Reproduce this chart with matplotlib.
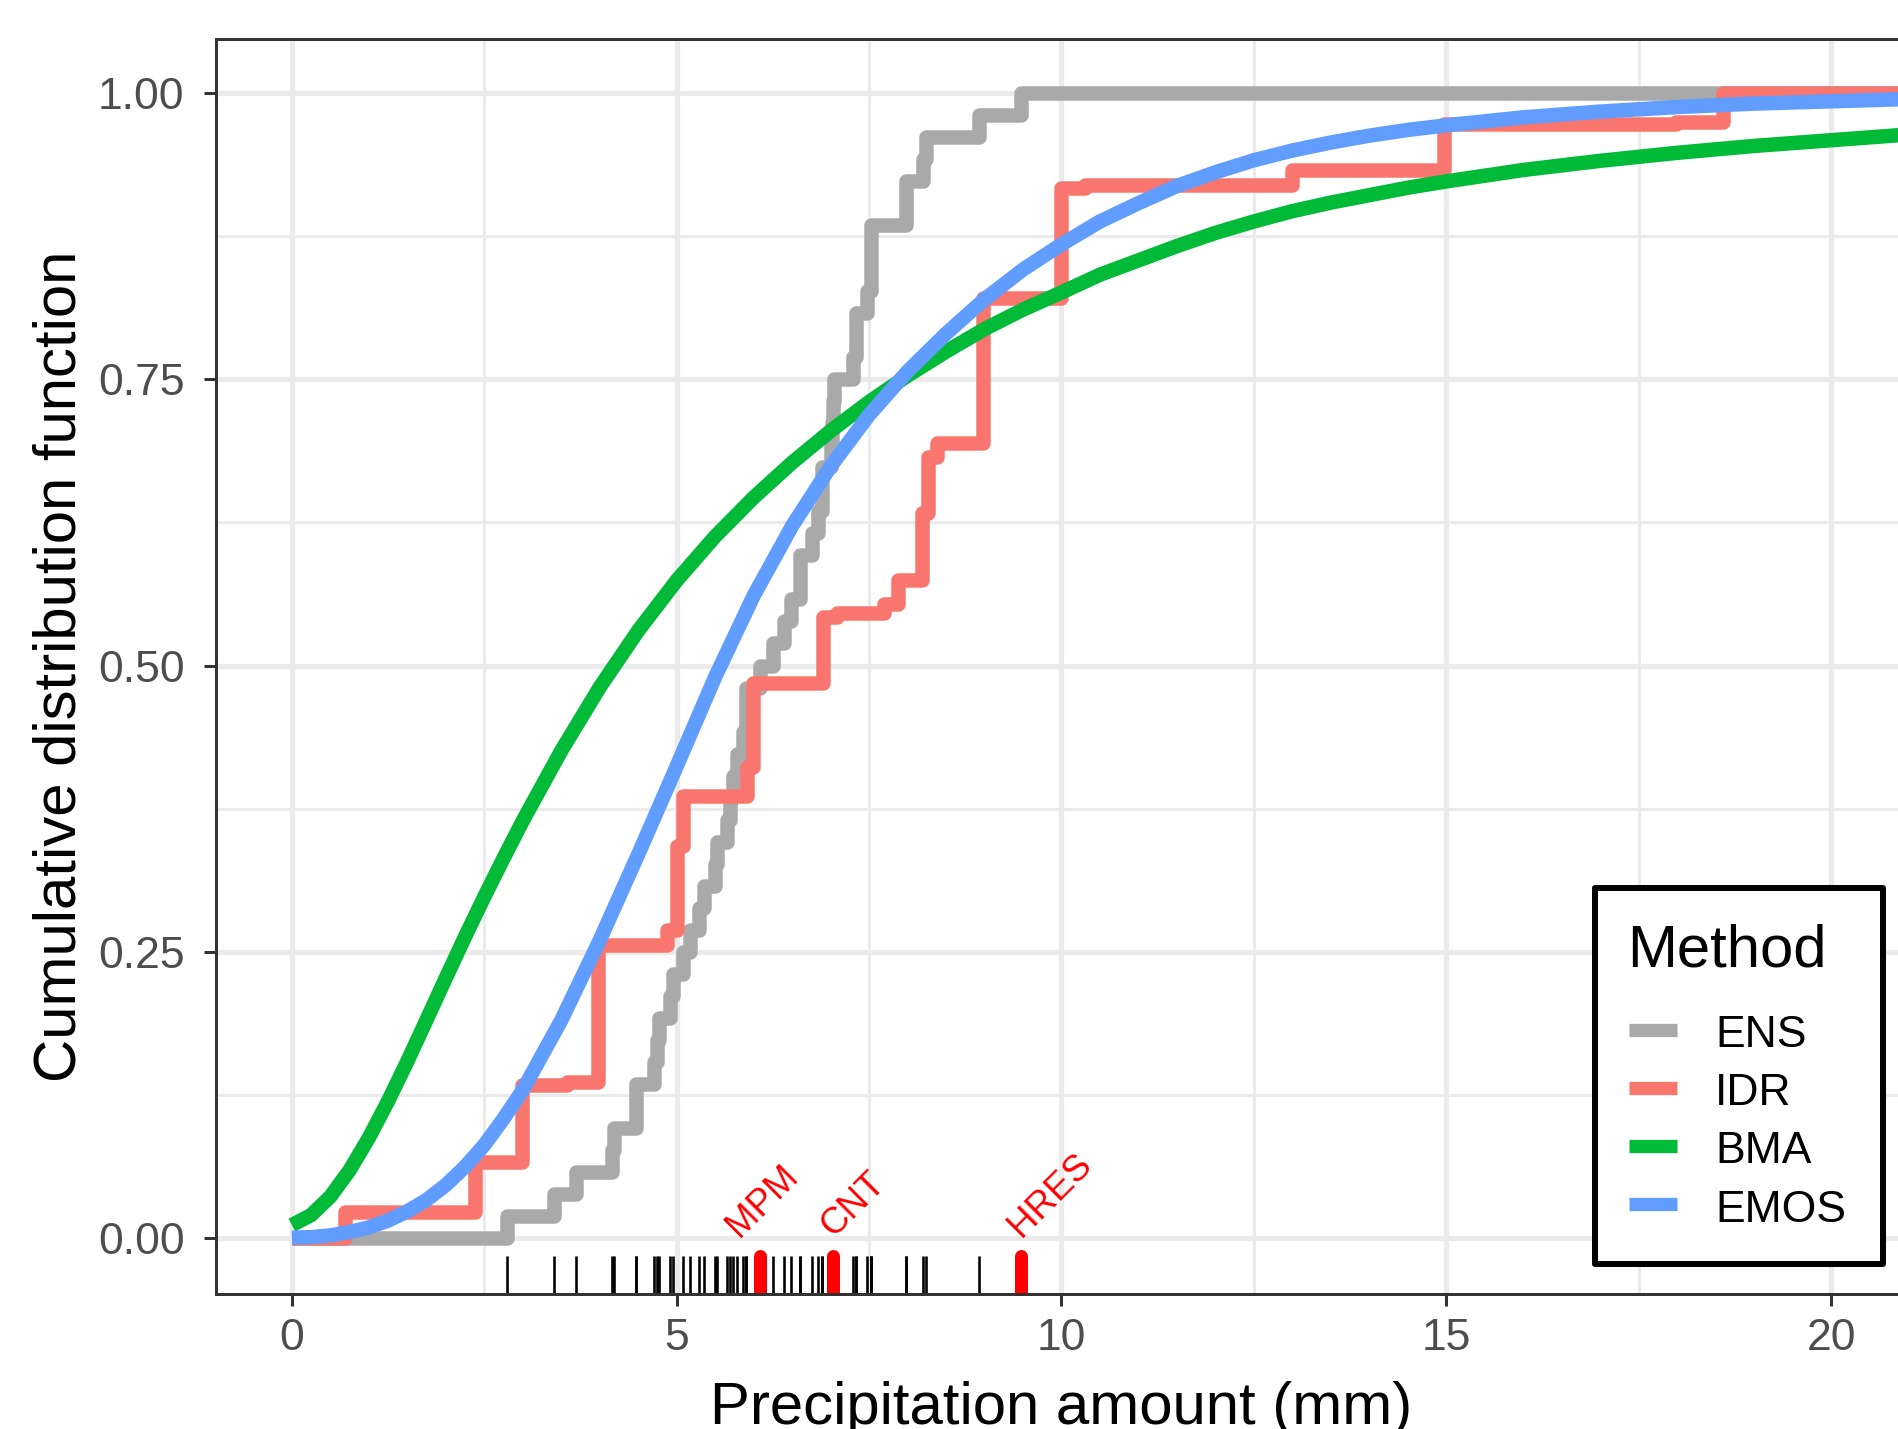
import numpy as np
import matplotlib
matplotlib.use("Agg")
import matplotlib.pyplot as plt
from matplotlib.lines import Line2D
from matplotlib.patches import Rectangle

plt.rcParams['font.family'] = ['Liberation Sans', 'DejaVu Sans']

# ---------------------------------------------------------------------------
# Data
# ---------------------------------------------------------------------------
# Raw ensemble member forecasts (mm); ENS is their empirical CDF
ens_members = [2.79, 3.41, 3.69, 4.155, 4.185, 4.47, 4.47, 4.705, 4.74, 4.77,
               4.91, 4.95, 5.086, 5.17, 5.29, 5.35, 5.50, 5.53, 5.65, 5.69,
               5.73, 5.78, 5.86, 5.90, 5.90, 6.085, 6.25, 6.39, 6.48, 6.60,
               6.60, 6.76, 6.83, 6.89, 6.89, 7.00, 7.02, 7.035, 7.05, 7.295,
               7.33, 7.33, 7.47, 7.52, 7.52, 7.52, 7.98, 7.98, 8.20, 8.235,
               8.93, 9.48]

# Highlighted single forecasts shown on the rug
named_labels = ['MPM', 'CNT', 'HRES']
named_values = [6.085, 7.035, 9.48]

# IDR: jump locations (mm) and CDF level after each jump
idr_x = [0.0, 0.69, 2.38, 2.985, 3.57, 3.98, 4.87, 5.0, 5.086, 5.91, 5.995,
         6.905, 7.08, 7.69, 7.87, 8.19, 8.27, 8.38, 8.98, 9.99, 10.3, 13.0,
         14.97, 17.99, 18.6]
idr_p = [0.0, 0.0227, 0.0664, 0.1334, 0.1363, 0.2557, 0.269, 0.3425, 0.386,
         0.411, 0.4845, 0.5424, 0.5456, 0.554, 0.575, 0.633, 0.6825, 0.694,
         0.821, 0.917, 0.920, 0.933, 0.973, 0.975, 1.0]

# BMA predictive CDF
bma_x = [0.0, 0.25, 0.5, 0.75, 1.0, 1.25, 1.5, 1.75, 2.0, 2.25, 2.5, 2.75,
         3.0, 3.5, 4.0, 4.5, 5.0, 5.5, 6.0, 6.5, 7.0, 7.5, 8.0, 8.5, 9.0,
         9.5, 10.0, 10.5, 11.0, 11.5, 12.0, 12.5, 13.0, 13.5, 14.0, 14.5,
         15.0, 16.0, 17.0, 18.0, 19.0, 20.0, 21.0, 21.5]
bma_p = [0.011, 0.0198, 0.036, 0.059, 0.0873, 0.1194, 0.1541, 0.1904, 0.227,
         0.263, 0.2979, 0.3316, 0.3643, 0.4255, 0.481, 0.5305, 0.5743,
         0.6128, 0.6468, 0.6773, 0.705, 0.7303, 0.7533, 0.7743, 0.794,
         0.811, 0.826, 0.8415, 0.854, 0.8665, 0.878, 0.888, 0.897, 0.9045,
         0.911, 0.9175, 0.923, 0.933, 0.941, 0.948, 0.954, 0.959, 0.964,
         0.966]

# EMOS predictive CDF
emos_x = [0.0, 0.25, 0.5, 0.75, 1.0, 1.25, 1.5, 1.75, 2.0, 2.25, 2.5, 2.75,
          3.0, 3.5, 4.0, 4.5, 5.0, 5.5, 6.0, 6.5, 7.0, 7.5, 8.0, 8.5, 9.0,
          9.5, 10.0, 10.5, 11.0, 11.5, 12.0, 12.5, 13.0, 13.5, 14.0, 14.5,
          15.0, 16.0, 17.0, 18.0, 19.0, 20.0, 21.0, 21.5]
emos_p = [0.0, 0.0005, 0.002, 0.005, 0.009, 0.015, 0.023, 0.033, 0.046,
          0.062, 0.081, 0.104, 0.129, 0.190, 0.260, 0.335, 0.412, 0.490,
          0.561, 0.622, 0.674, 0.719, 0.757, 0.790, 0.820, 0.846, 0.868,
          0.888, 0.904, 0.919, 0.931, 0.9415, 0.950, 0.957, 0.963, 0.968,
          0.972, 0.979, 0.984, 0.988, 0.991, 0.993, 0.995, 0.996]

methods = ['ENS', 'IDR', 'BMA', 'EMOS']
colors = {'ENS': '#A9A9A9', 'IDR': '#F8766D', 'BMA': '#00BA38',
          'EMOS': '#619CFF'}

x_ticks = [0, 5, 10, 15, 20]
y_ticks = [0.0, 0.25, 0.50, 0.75, 1.00]
y_ticklabels = ['0.00', '0.25', '0.50', '0.75', '1.00']

# ---------------------------------------------------------------------------
# Layout (pixel geometry of the output image)
# ---------------------------------------------------------------------------
W, H, DPI = 1899, 1429, 200
PX = 72.0 / DPI                    # points per pixel

ax_left, ax_right, ax_top, ax_bottom = 216, 1940, 39, 1293.5
x0_px, px_per_mm = 291.9, 76.96
y0_px, px_per_unit = 1237.7, 1144.4

fig = plt.figure(figsize=(W / DPI, H / DPI), dpi=DPI)
fig.patch.set_facecolor('white')
ax = fig.add_axes([ax_left / W, 1 - ax_bottom / H,
                   (ax_right - ax_left) / W, (ax_bottom - ax_top) / H])
ax.set_xlim((ax_left - x0_px) / px_per_mm, (ax_right - x0_px) / px_per_mm)
ax.set_ylim((y0_px - ax_bottom) / px_per_unit, (y0_px - ax_top) / px_per_unit)
x_end = ax.get_xlim()[1] + 0.5

# ---------------------------------------------------------------------------
# Grid, spines, ticks
# ---------------------------------------------------------------------------
ax.set_axisbelow(True)
ax.set_xticks(x_ticks)
ax.set_xticks([2.5, 7.5, 12.5, 17.5], minor=True)
ax.set_yticks(y_ticks)
ax.set_yticklabels(y_ticklabels)
ax.set_yticks([0.125, 0.375, 0.625, 0.875], minor=True)
ax.grid(which='major', color='#EBEBEB', lw=5.2 * PX)
ax.grid(which='minor', color='#EBEBEB', lw=3.0 * PX)
for s in ax.spines.values():
    s.set_color('#333333')
    s.set_linewidth(3.0 * PX)
ax.tick_params(which='major', length=12 * PX, width=3.0 * PX,
               color='#333333', labelsize=16, labelcolor='#4D4D4D')
ax.tick_params(axis='x', which='major', pad=4.5)
ax.tick_params(axis='y', which='major', pad=7.0)
ax.tick_params(which='minor', length=0)

# ---------------------------------------------------------------------------
# CDF curves
# ---------------------------------------------------------------------------
lw = 14.5 * PX
line_kw = dict(lw=lw, solid_joinstyle='round', solid_capstyle='butt')

# ENS: empirical CDF of the members
vals, counts = np.unique(np.asarray(ens_members), return_counts=True)
ens_level = np.cumsum(counts) / len(ens_members)
ens_x = np.concatenate([[0.0], vals, [x_end]])
ens_y = np.concatenate([[0.0], ens_level, [1.0]])
ax.plot(ens_x, ens_y, drawstyle='steps-post', color=colors['ENS'],
        **line_kw)

# IDR step CDF
ax.plot(list(idr_x) + [x_end], list(idr_p) + [idr_p[-1]],
        drawstyle='steps-post', color=colors['IDR'], **line_kw)

# BMA and EMOS smooth CDFs
ax.plot(bma_x, bma_p, color=colors['BMA'], **line_kw)
ax.plot(emos_x, emos_p, color=colors['EMOS'], **line_kw)

# ---------------------------------------------------------------------------
# Rug of member forecasts with highlighted single forecasts
# ---------------------------------------------------------------------------
rug_tf = ax.get_xaxis_transform()
ax.vlines(ens_members, 0, 0.03, transform=rug_tf, color='black',
          lw=2.6 * PX)
red_rug = ax.vlines(named_values, 0, 0.03, transform=rug_tf, color='red',
                    lw=13 * PX)
red_rug.set_capstyle('round')

label_nudge = {'MPM': -0.28}
for name, val in zip(named_labels, named_values):
    ax.text(val + label_nudge.get(name, 0.0), 0.0, name, color='red',
            fontsize=13.2, rotation=45, rotation_mode='anchor',
            ha='left', va='baseline')

# ---------------------------------------------------------------------------
# Axis titles
# ---------------------------------------------------------------------------
ax_w = ax_right - ax_left
ax_h = ax_bottom - ax_top
ax.set_xlabel('Precipitation amount (mm)', fontsize=21.6, color='black',
              va='baseline')
ax.xaxis.set_label_coords((1061 - ax_left) / ax_w,
                          (ax_bottom - 1424) / ax_h)
ax.set_ylabel('Cumulative distribution function', fontsize=21.6,
              color='black', va='baseline')
ax.yaxis.set_label_coords((76 - ax_left) / ax_w, 0.5)

# ---------------------------------------------------------------------------
# Legend
# ---------------------------------------------------------------------------
def fx(px):
    return px / W


def fy(py):
    return 1 - py / H


frame = Rectangle((fx(1594.7), fy(1263.7)), fx(1883) - fx(1594.7),
                  fy(888) - fy(1263.7), transform=fig.transFigure,
                  facecolor='white', edgecolor='black', lw=6.0 * PX,
                  joinstyle='round', zorder=5)
fig.add_artist(frame)
fig.text(fx(1626.7), fy(966.7), 'Method', fontsize=21.6, ha='left',
         va='baseline', zorder=6)
key_centers = [1030, 1088.3, 1146, 1204.3]
label_baselines = [1046.7, 1105, 1163.3, 1221.7]
for m, yc, yb in zip(methods, key_centers, label_baselines):
    fig.add_artist(Line2D([fx(1629), fx(1677)], [fy(yc), fy(yc)],
                          transform=fig.transFigure, color=colors[m],
                          lw=13.3 * PX, solid_capstyle='butt', zorder=6))
    fig.text(fx(1715), fy(yb), m, fontsize=16, ha='left', va='baseline',
             zorder=6)

fig.savefig('out.png', dpi=DPI)
